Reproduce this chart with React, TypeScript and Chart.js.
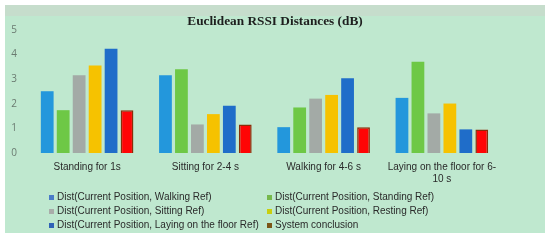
import React, { useEffect, useRef } from 'react';
import { Chart, registerables } from 'chart.js';
Chart.register(...registerables);

const categories: (string | string[])[] = [
  'Standing for 1s',
  'Sitting for 2-4 s',
  'Walking for 4-6 s',
  ['Laying on the floor for 6-', '10 s'],
];
const seriesNames = [
  'Dist(Current Position, Walking Ref)',
  'Dist(Current Position, Standing Ref)',
  'Dist(Current Position, Sitting Ref)',
  'Dist(Current Position, Resting Ref)',
  'Dist(Current Position, Laying on the floor Ref)',
  'System conclusion',
];
const walkingRef = [2.51, 3.16, 1.05, 2.24];
const standingRef = [1.74, 3.4, 1.85, 3.71];
const sittingRef = [3.16, 1.16, 2.21, 1.61];
const restingRef = [3.56, 1.58, 2.36, 2.01];
const layingRef = [4.24, 1.92, 3.04, 0.96];
const systemConclusion = [1.74, 1.16, 1.05, 0.96];
const yMin = 0;
const yMax = 5;
const yStep = 1;

const seriesValues = [walkingRef, standingRef, sittingRef, restingRef, layingRef, systemConclusion];
const barColors = ['#2397dc', '#6ec846', '#a3aaa6', '#f6c200', '#1f6dc9', '#ff0505'];
const barBorders = ['#2397dc', '#6ec846', '#a3aaa6', '#f6c200', '#1f6dc9', '#8a2d08'];
const legendColors = ['#4a7cc8', '#76b84c', '#a9aca9', '#c9cf0e', '#2f62b6', '#7b5516'];

export default function App() {
  const ref = useRef<HTMLCanvasElement | null>(null);
  useEffect(() => {
    document.body.style.margin = '0';
    const ctx = ref.current!;
    const chart = new Chart(ctx, {
      type: 'bar',
      data: {
        labels: categories as any,
        datasets: seriesNames.map((name, i) => ({
          label: name,
          data: seriesValues[i],
          backgroundColor: barColors[i],
          borderColor: barBorders[i],
          borderWidth: i === 5 ? 1.5 : 0,
          barPercentage: 0.8,
          categoryPercentage: 0.81,
        })),
      },
      options: {
        responsive: false,
        animation: false,
        layout: { padding: { left: 0, right: 0, top: 0, bottom: 48 } },
        plugins: {
          legend: { display: false },
          tooltip: { enabled: false },
          title: {
            display: true,
            text: 'Euclidean RSSI Distances (dB)',
            color: '#1e1e1e',
            font: { family: '"Liberation Serif", serif', size: 13.3, weight: 'bold' },
            padding: { top: 9, bottom: 0 },
          },
        },
        scales: {
          x: {
            grid: { display: false, drawTicks: false },
            border: { display: false },
            ticks: {
              color: '#2a2a2a',
              font: { family: '"Liberation Sans", Arial, sans-serif', size: 10 },
              padding: 8,
              maxRotation: 0,
              autoSkip: false,
            },
            afterFit: (s: any) => { s.height = 32; },
          },
          y: {
            min: yMin,
            max: yMax,
            grid: { display: false, drawTicks: false },
            border: { display: false },
            ticks: {
              stepSize: yStep,
              color: '#6a7a70',
              font: { family: '"Open Sans", sans-serif', size: 10 },
              padding: 11,
            },
            afterFit: (s: any) => { s.width = 23; },
          },
          yRight: {
            position: 'right',
            min: yMin,
            max: yMax,
            grid: { display: false, drawTicks: false },
            border: { display: false },
            ticks: { display: false },
            afterFit: (s: any) => { s.width = 44; },
          },
        },
      },
    });
    return () => chart.destroy();
  }, []);

  const rowTops = [185, 199, 213];
  const colLefts = [44, 262];

  return (
    <div style={{ position: 'relative', width: 550, height: 243, background: '#ffffff', overflow: 'hidden' }}>
      <div style={{ position: 'absolute', left: 5, top: 5, width: 540, height: 228, background: '#bfe8cf' }}>
        <div style={{ position: 'absolute', left: 0, top: 0, width: 540, height: 11, background: '#c6ddcc' }} />
        <canvas ref={ref} width={540} height={228} style={{ position: 'absolute', left: 0, top: 0, width: 540, height: 228 }} />
        {seriesNames.map((name, i) => (
          <div
            key={name}
            style={{
              position: 'absolute',
              left: colLefts[i % 2],
              top: rowTops[Math.floor(i / 2)],
              height: 14,
              lineHeight: '14px',
              whiteSpace: 'nowrap',
              fontFamily: '"Liberation Sans", Arial, sans-serif',
              fontSize: 10,
              color: '#2a2a2a',
              display: 'flex',
              alignItems: 'center',
            }}
          >
            <span style={{ display: 'inline-block', width: 5, height: 5, background: legendColors[i], marginRight: 3 }} />
            <span>{name}</span>
          </div>
        ))}
      </div>
    </div>
  );
}
